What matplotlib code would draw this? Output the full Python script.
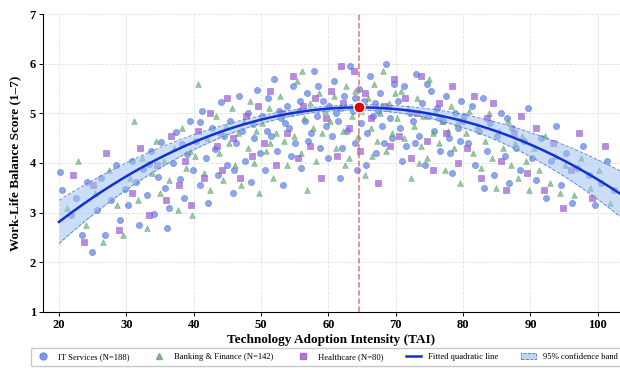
import numpy as np
import matplotlib
matplotlib.use('Agg')
import matplotlib.pyplot as plt
from matplotlib.lines import Line2D
from matplotlib.patches import Patch

# --- Data ---
it_x = [20.2, 20.5, 21.8, 22.6, 23.4, 24.1, 24.9, 25.6, 26.3, 26.9, 27.7, 28.4, 29.1, 29.8,
        30.3, 30.8, 31.4, 31.9, 32.5, 33.0, 33.6, 34.1, 34.7, 35.2, 35.8, 36.3, 36.9, 37.4,
        37.9, 38.5, 39.0, 39.5, 39.9, 36.0, 33.3, 38.2,
        40.4, 40.9, 41.3, 41.8, 42.2, 42.7, 43.1, 43.6, 44.0, 44.5, 44.9, 45.4, 45.8, 46.3,
        46.7, 47.2, 47.6, 48.1, 48.5, 49.0, 49.4, 49.8, 41.0, 43.9, 46.0, 48.8,
        50.2, 50.6, 51.1, 51.5, 52.0, 52.4, 52.9, 53.3, 53.8, 54.2, 54.7, 55.1, 55.6, 56.0,
        56.5, 56.9, 57.4, 57.8, 58.3, 58.7, 59.2, 59.6, 50.9, 52.7, 54.5, 55.8, 57.0, 58.5,
        59.9, 53.6,
        60.1, 60.5, 60.9, 61.4, 61.8, 62.3, 62.7, 63.2, 63.6, 64.0, 64.5, 64.9, 65.3, 65.8,
        66.2, 66.7, 67.1, 67.6, 68.0, 68.5, 68.9, 69.4, 69.8, 61.1, 62.0, 63.9, 65.6, 66.9,
        68.2, 69.1, 64.2, 67.4,
        70.3, 70.7, 71.2, 71.6, 72.1, 72.5, 73.0, 73.4, 73.9, 74.3, 74.8, 75.2, 75.7, 76.1,
        76.6, 77.0, 77.5, 77.9, 78.4, 78.8, 79.3, 79.7, 71.0, 72.8, 74.6, 76.4, 78.1, 79.5,
        80.2, 80.7, 81.3, 81.8, 82.4, 82.9, 83.5, 84.0, 84.6, 85.1, 85.7, 86.2, 86.8, 87.3,
        87.9, 88.4, 89.0, 89.6, 83.1, 86.5,
        90.3, 90.9, 91.6, 92.3, 93.0, 93.8, 94.5, 95.3, 96.1, 96.9, 97.8, 98.7, 99.6, 100.5,
        101.4, 102.4]
it_y = [3.82, 3.45, 2.95, 3.30, 2.55, 3.62, 2.20, 3.05, 3.70, 2.55, 3.25, 3.95, 2.85, 3.48,
        3.15, 4.05, 3.62, 2.75, 3.88, 3.35, 4.25, 2.98, 3.72, 4.42, 3.50, 3.10, 4.00, 4.62,
        3.68, 3.30, 4.18, 4.85, 3.85, 2.70, 3.98, 4.38,
        4.45, 3.55, 5.05, 4.10, 3.20, 4.70, 4.28, 3.75, 5.22, 4.55, 3.95, 4.85, 3.40, 4.40,
        5.35, 4.65, 4.05, 5.00, 3.62, 4.50, 5.48, 4.20, 4.82, 4.60, 3.85, 4.78,
        4.95, 3.85, 5.30, 4.55, 5.70, 4.25, 4.90, 3.55, 5.15, 4.70, 5.55, 4.40, 5.05, 3.90,
        4.85, 5.40, 4.60, 5.85, 4.95, 4.30, 5.25, 4.75, 4.65, 5.05, 4.15, 5.25, 4.45, 5.55,
        4.10, 4.80,
        5.15, 4.55, 5.65, 4.85, 3.70, 5.35, 4.65, 5.95, 5.05, 4.40, 5.50, 4.80, 5.25, 4.60,
        5.75, 4.95, 4.20, 5.40, 4.75, 6.00, 5.10, 4.50, 5.60, 5.00, 4.30, 5.30, 3.95, 5.20,
        4.40, 4.90, 3.85, 5.05,
        5.25, 4.70, 5.55, 4.35, 5.00, 4.85, 5.80, 4.55, 5.20, 3.95, 4.95, 5.45, 4.65, 5.10,
        4.25, 4.85, 5.35, 4.50, 3.80, 5.00, 4.70, 5.25, 4.05, 4.40, 5.60, 4.90, 4.20, 4.45,
        4.95, 4.40, 5.15, 3.95, 4.65, 5.30, 4.25, 4.80, 3.75, 4.55, 5.00, 4.15, 3.60, 4.70,
        4.30, 3.85, 4.45, 5.10, 3.50, 4.90,
        4.10, 3.65, 4.50, 3.30, 4.05, 4.75, 3.55, 4.20, 3.20, 3.90, 4.35, 3.75, 3.15, 3.60,
        4.05, 3.45]

bank_x = [21.2, 22.9, 24.0, 25.3, 26.5, 27.4, 28.6, 29.5,
          30.5, 31.1, 31.7, 32.4, 33.1, 33.8, 34.4, 35.0, 35.6, 36.4, 37.1, 37.7, 38.3, 38.9,
          39.4, 39.8,
          40.2, 40.7, 41.5, 42.0, 42.5, 43.3, 43.8, 44.3, 44.8, 45.2, 45.7, 46.2, 46.6, 47.1,
          47.5, 48.0, 48.4, 48.9, 49.3, 49.7,
          50.1, 50.7, 51.2, 51.8, 52.3, 52.8, 53.4, 53.9, 54.4, 54.9, 55.4, 55.9, 56.4, 56.8,
          57.3, 57.7, 58.2, 58.6, 59.1, 59.5, 51.4, 56.1,
          60.3, 60.8, 61.2, 61.7, 62.1, 62.6, 63.0, 63.5, 63.9, 64.4, 64.8, 65.4, 65.9, 66.3,
          66.8, 67.2, 67.7, 68.1, 68.6, 69.0, 69.5, 69.9, 62.4, 66.5,
          70.2, 70.8, 71.3, 71.8, 72.3, 72.7, 73.2, 73.7, 74.1, 74.6, 75.0, 75.5, 75.9, 76.4,
          76.8, 77.3, 77.7, 78.2, 78.6, 79.1, 79.6, 73.5,
          80.4, 80.9, 81.5, 82.1, 82.6, 83.2, 83.8, 84.3, 84.9, 85.4, 86.0, 86.6, 87.1, 87.7,
          88.2, 88.8, 89.3, 89.8,
          90.6, 91.3, 92.1, 92.9, 93.6, 94.4, 95.2, 96.4, 97.5, 98.8, 100.2, 101.8]
bank_y = [3.10, 4.05, 2.75, 3.40, 2.40, 3.85, 3.15, 2.55,
          3.70, 4.85, 3.25, 4.10, 2.70, 3.80, 4.45, 3.40, 4.05, 3.65, 4.30, 3.05, 4.70, 3.90,
          4.25, 2.95,
          4.15, 5.60, 3.80, 4.50, 3.45, 4.95, 4.20, 3.65, 4.75, 4.40, 5.10, 3.95, 4.60, 3.55,
          4.85, 4.30, 5.25, 4.00, 4.65, 3.40,
          4.80, 4.25, 5.10, 3.70, 4.60, 5.35, 4.45, 3.95, 5.00, 4.55, 5.65, 4.20, 4.90, 3.45,
          5.20, 4.70, 4.05, 5.40, 4.60, 5.05, 4.40, 5.85,
          4.85, 5.35, 4.30, 5.10, 4.65, 5.55, 4.10, 4.95, 5.45, 4.55, 5.05, 3.75, 5.30, 4.70,
          5.60, 4.45, 5.00, 5.85, 4.25, 5.20, 4.60, 5.40, 3.95, 4.15,
          4.90, 5.45, 4.50, 5.10, 3.70, 4.75, 5.30, 4.35, 4.95, 4.10, 5.70, 4.60, 5.05, 4.40,
          4.85, 3.85, 4.65, 5.15, 4.30, 4.80, 3.60, 4.00,
          4.60, 5.05, 4.20, 4.75, 3.90, 4.45, 5.00, 4.10, 3.50, 4.65, 4.30, 4.85, 3.95, 4.40,
          3.70, 4.55, 4.05, 3.45,
          4.30, 3.85, 4.55, 3.60, 4.15, 3.40, 3.95, 3.35, 4.10, 3.50, 3.85, 3.20]

hc_x = [22.1, 23.7, 25.1, 27.0, 28.9,
        30.9, 32.0, 33.4, 34.6, 35.9, 36.7, 37.8, 38.7, 39.6,
        40.6, 41.6, 42.4, 43.4, 44.2, 45.0, 45.9, 46.9, 47.8, 48.7, 49.6,
        50.4, 51.3, 52.2, 53.1, 53.9, 54.8, 55.5, 56.3, 57.2, 58.0, 58.9, 59.7,
        60.4, 61.3, 62.2, 63.1, 63.8, 64.7, 65.5, 66.4, 67.3, 68.3, 69.2, 69.7, 61.9,
        70.5, 71.4, 72.2, 73.1, 73.8, 74.7, 75.6, 76.5, 77.4, 78.3, 79.2, 79.9,
        80.6, 81.6, 82.7, 83.6, 84.5, 85.6, 86.4, 87.5, 88.6, 89.5,
        90.8, 92.0, 93.3, 94.8, 96.0, 97.2, 99.1, 101.0]
hc_y = [3.75, 2.40, 3.55, 4.20, 2.65,
        3.40, 4.30, 2.95, 3.95, 3.25, 4.55, 3.55, 4.05, 3.15,
        4.65, 3.70, 5.00, 4.35, 3.85, 5.30, 4.50, 3.70, 4.95, 4.15, 5.15,
        4.40, 5.45, 3.95, 5.00, 4.60, 5.75, 4.10, 5.15, 4.35, 5.30, 3.70, 4.90,
        5.45, 4.15, 5.20, 4.70, 5.85, 4.25, 5.40, 4.90, 3.60, 5.15, 4.35, 5.70, 5.95,
        4.55, 5.30, 4.10, 5.00, 5.75, 4.45, 3.85, 5.20, 4.60, 5.55, 4.00, 4.85,
        4.30, 5.35, 3.70, 4.90, 5.20, 4.05, 3.45, 4.60, 4.95, 3.80,
        4.70, 3.45, 4.40, 3.10, 3.85, 4.60, 3.30, 4.35]

# quadratic fit y = b0 + b1*x + b2*x^2, and band half-width h0 + h2*(x - hc)^2
fit_coef = [0.2791, 0.14987, -0.00116]
band_h0, band_h2, band_center = 0.05, 0.00023, 61.0
peak_x, peak_y = 64.6, 5.12

xlim = (17.6, 103.3)
ylim = (1, 7)

plt.rcParams['font.family'] = ['Liberation Serif', 'DejaVu Serif']

fig = plt.figure(figsize=(6.2, 3.7), dpi=100)
ax = fig.add_axes([0.069, 0.157, 0.931, 0.805])

ax.grid(True, color='#e2e2e2', linestyle='--', linewidth=0.6, zorder=0)

ax.scatter(it_x, it_y, s=20, marker='o', color='#5b80e6', alpha=0.7,
           edgecolors='#4a68cc', linewidths=0.4, zorder=2)
ax.scatter(bank_x, bank_y, s=17, marker='^', color='#62a86e', alpha=0.65,
           edgecolors='#4a9a58', linewidths=0.4, zorder=2)
ax.scatter(hc_x, hc_y, s=16, marker='s', color='#9a58d4', alpha=0.7,
           edgecolors='#8448c0', linewidths=0.4, zorder=2)

xs = np.linspace(xlim[0] + 2.4, xlim[1], 300)
yfit = np.polyval(fit_coef[::-1], xs)
hw = band_h0 + band_h2 * (xs - band_center) ** 2
ax.fill_between(xs, yfit - hw, yfit + hw, color='#9fc3f2', alpha=0.55, linewidth=0, zorder=3)
ax.plot(xs, yfit + hw, color='#4a72c8', linestyle='--', linewidth=0.7, alpha=0.8, zorder=3)
ax.plot(xs, yfit - hw, color='#4a72c8', linestyle='--', linewidth=0.7, alpha=0.8, zorder=3)
ax.plot(xs, yfit, color='#1530d0', linewidth=1.8, zorder=4)

ax.axvline(peak_x, color='#e45a5a', linestyle='--', linewidth=1.1, alpha=0.85, zorder=4)
ax.plot(peak_x, peak_y, 'o', color='#e00000', markersize=8, markeredgecolor='white',
        markeredgewidth=1.0, zorder=5)

ax.set_xlim(*xlim)
ax.set_ylim(*ylim)
ax.set_xticks(range(20, 101, 10))
ax.set_yticks(range(1, 8))
for lab in ax.get_xticklabels() + ax.get_yticklabels():
    lab.set_fontweight('bold')
    lab.set_fontsize(9)
ax.tick_params(length=3, width=0.7, pad=2)

for s in ['top', 'right']:
    ax.spines[s].set_visible(False)
for s in ['left', 'bottom']:
    ax.spines[s].set_linewidth(0.8)

ax.set_xlabel('Technology Adoption Intensity (TAI)', fontsize=9.5, fontweight='bold', labelpad=2)
ax.set_ylabel('Work-Life Balance Score (1–7)', fontsize=9.5, fontweight='bold', labelpad=6)

handles = [
    Line2D([0], [0], marker='o', color='#5b80e6', linestyle='None', markersize=5, alpha=0.8,
           label='IT Services (N=188)'),
    Line2D([0], [0], marker='^', color='#62a86e', linestyle='None', markersize=5, alpha=0.8,
           label='Banking & Finance (N=142)'),
    Line2D([0], [0], marker='s', color='#9a58d4', linestyle='None', markersize=5, alpha=0.8,
           label='Healthcare (N=80)'),
    Line2D([0], [0], color='#1530d0', linewidth=1.8, label='Fitted quadratic line'),
    Patch(facecolor='#bcd5f5', edgecolor='#4a72c8', linestyle='--', linewidth=0.6,
          label='95% confidence band'),
]
fig.legend(handles=handles, loc='lower center', bbox_to_anchor=(0.527, 0.0), ncol=5,
           fontsize=6.2, frameon=True, fancybox=True, edgecolor='#bbbbbb',
           handlelength=1.8, columnspacing=2.6, borderpad=0.55)

fig.savefig('out.png', dpi=100)
